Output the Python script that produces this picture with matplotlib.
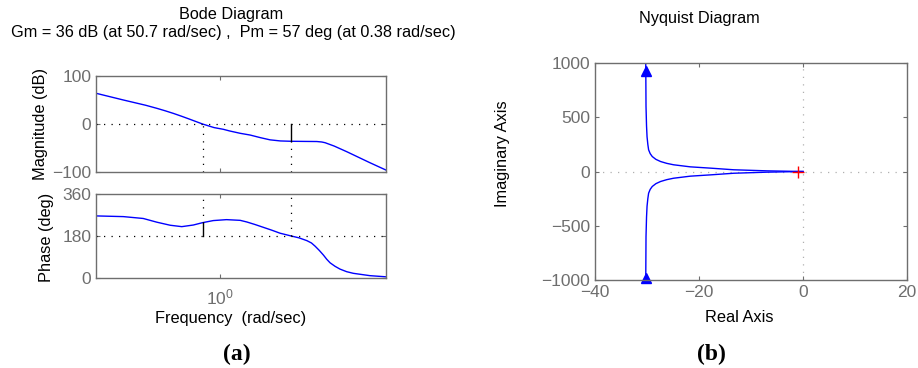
import matplotlib
matplotlib.use("Agg")
import matplotlib.pyplot as plt
import numpy as np

plt.rcParams['font.family'] = ['Liberation Sans', 'DejaVu Sans']
plt.rcParams['mathtext.fontset'] = 'custom'
plt.rcParams['mathtext.rm'] = 'Liberation Sans'
plt.rcParams['mathtext.it'] = 'Liberation Sans'

# Bode magnitude (log10 of rad/sec, dB)
mag_logw = [-3.0, -2.34, -1.80, -1.53, -1.33, -1.13, -0.93, -0.73, -0.43, -0.15,
            0.07, 0.23, 0.48, 0.72, 0.97, 1.20, 1.45, 1.71, 2.05, 2.33,
            2.45, 2.53, 2.75, 3.05, 3.61, 4.0]
mag_db = [64, 50, 39, 32.6, 27.5, 22, 16, 9.7, 0, -7.5,
          -11, -14.6, -19.4, -23, -28.5, -33, -35.3, -36, -36.3, -36.5,
          -37.5, -39, -46, -57.6, -80.6, -96]

# Bode phase (log10 of rad/sec, deg)
ph_logw = [-3.0, -2.34, -1.86, -1.53, -1.21, -0.93, -0.65, -0.43, -0.17, 0.15,
           0.48, 0.64, 0.84, 1.04, 1.24, 1.44, 1.71, 1.90, 2.09, 2.20,
           2.29, 2.39, 2.49, 2.57, 2.65, 2.77, 2.89, 3.05, 3.21, 3.61, 4.0]
ph_deg = [266, 263, 255, 239, 226, 220, 227, 237, 246, 250,
          247, 240, 229, 217, 205, 192, 180, 172, 160, 150,
          136, 118, 98, 80, 65, 50, 38, 27, 20, 10, 5]

# margins
gm_db, gm_w = 36, 50.7
pm_deg, pm_w = 57, 0.38

# Nyquist, upper branch (the lower one is its mirror)
nyq_re = [-30.25, -30.2, -30.1, -30.0, -29.85, -29.7, -29.4, -29.0, -28.3, -27.4,
          -26.2, -24.9, -21.7, -17.8, -13.35, -6.9, -3.0, -1.2, 0.0]
nyq_im = [1000, 600, 420, 320, 250, 200, 165, 138, 112, 92,
          75, 62, 43, 31, 16, 6, 2.5, 1, 0]

gray = '#6e6e6e'
blue = '#0000ff'
dots = (0, (1, 5))

fig = plt.figure(figsize=(9.18, 3.68), dpi=100)
ax_m = fig.add_axes([0.1046, 0.5326, 0.3159, 0.2609])
ax_p = fig.add_axes([0.1046, 0.2446, 0.3159, 0.2283])
ax_n = fig.add_axes([0.6482, 0.2391, 0.3399, 0.5897])


def style(ax):
    for s in ax.spines.values():
        s.set_color(gray)
        s.set_linewidth(1.0)
    ax.tick_params(direction='in', length=3, width=0.8, colors=gray,
                   labelcolor=gray, labelsize=12.5, top=True, right=True)
    ax.tick_params(which='minor', length=0)


mw = 10 ** np.array(mag_logw)
pw = 10 ** np.array(ph_logw)

# magnitude
ax_m.plot(mw, mag_db, color=blue, lw=1.0)
ax_m.set_xscale('log')
ax_m.set_xlim(1e-3, 1e4)
ax_m.set_ylim(-100, 100)
ax_m.set_yticks([-100, 0, 100])
ax_m.set_yticklabels(['\u2212100', '0', '100'])
ax_m.set_xticks([1])
ax_m.set_xticklabels([])
ax_m.axhline(0, color='k', ls=dots, lw=0.9)
ax_m.plot([pm_w, pm_w], [-100, 0], color='k', ls=dots, lw=0.9)
ax_m.plot([gm_w, gm_w], [-100, -gm_db], color='k', ls=dots, lw=0.9)
ax_m.plot([gm_w, gm_w], [-gm_db, 0], color='k', lw=1.0)
style(ax_m)

# phase
ax_p.plot(pw, ph_deg, color=blue, lw=1.0)
ax_p.set_xscale('log')
ax_p.set_xlim(1e-3, 1e4)
ax_p.set_ylim(0, 360)
ax_p.set_yticks([0, 180, 360])
ax_p.set_xticks([1])
ax_p.set_xticklabels(['$\\mathregular{10^0}$'])
ax_p.axhline(180, color='k', ls=dots, lw=0.9)
ax_p.plot([pm_w, pm_w], [180 + pm_deg, 360], color='k', ls=dots, lw=0.9)
ax_p.plot([pm_w, pm_w], [180, 180 + pm_deg], color='k', lw=1.0)
ax_p.plot([gm_w, gm_w], [180, 360], color='k', ls=dots, lw=0.9)
style(ax_p)
ax_p.tick_params(axis='x', pad=7)

# nyquist
re = np.array(nyq_re)
im = np.array(nyq_im)
ax_n.plot(re, im, color=blue, lw=1.0)
ax_n.plot(re, -im, color=blue, lw=1.0)
ax_n.plot([-30.2], [930], marker='^', color=blue, ms=7, clip_on=False)
ax_n.plot([-30.25], [-985], marker='^', color=blue, ms=7, clip_on=False)
ax_n.plot([-1], [0], marker='+', color='red', ms=9, mew=1.0)
ax_n.axhline(0, color='#b0b0b0', ls=dots, lw=0.9, zorder=0)
ax_n.axvline(0, color='#b0b0b0', ls=dots, lw=0.9, zorder=0)
ax_n.set_xlim(-40, 20)
ax_n.set_ylim(-1000, 1000)
ax_n.set_xticks([-40, -20, 0, 20])
ax_n.set_xticklabels(['\u221240', '\u221220', '0', '20'])
ax_n.set_yticks([-1000, -500, 0, 500, 1000])
ax_n.set_yticklabels(['\u22121000', '\u2212500', '0', '500', '1000'])
style(ax_n)

# texts
fs_t = 11.7
fs_l = 11.8
fig.text(231 / 918, 1 - 15 / 368, 'Bode Diagram', ha='center', va='center', fontsize=fs_t)
fig.text(233 / 918, 1 - 33 / 368,
         'Gm = 36 dB (at 50.7 rad/sec) ,  Pm = 57 deg (at 0.38 rad/sec)',
         ha='center', va='center', fontsize=fs_t)
fig.text(699 / 918, 1 - 18 / 368, 'Nyquist Diagram', ha='center', va='center', fontsize=fs_t)
fig.text(40 / 918, 1 - 124 / 368, 'Magnitude (dB)', rotation=90, ha='center', va='center', fontsize=fs_l)
fig.text(47 / 918, 1 - 237 / 368, 'Phase (deg)', rotation=90, ha='center', va='center', fontsize=fs_l)
fig.text(231 / 918, 1 - 319 / 368, 'Frequency  (rad/sec)', ha='center', va='center', fontsize=fs_l)
fig.text(502 / 918, 1 - 154 / 368, 'Imaginary Axis', rotation=90, ha='center', va='center', fontsize=fs_l)
fig.text(739 / 918, 1 - 317 / 368, 'Real Axis', ha='center', va='center', fontsize=fs_l)
fig.text(237 / 918, 1 - 354 / 368, '(a)', ha='center', va='center', fontsize=17,
         family='Liberation Serif', weight='bold')
fig.text(711 / 918, 1 - 354 / 368, '(b)', ha='center', va='center', fontsize=17,
         family='Liberation Serif', weight='bold')

fig.savefig('out.png', dpi=100)
